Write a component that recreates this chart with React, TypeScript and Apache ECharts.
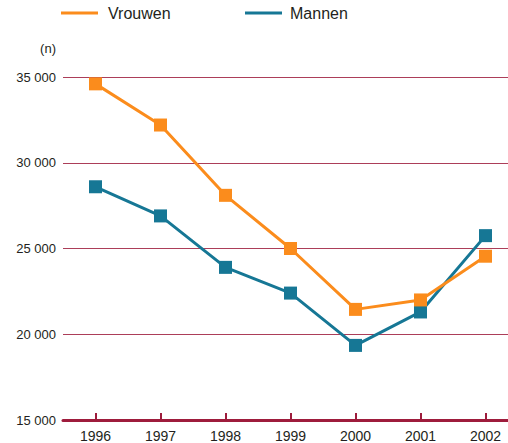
import React, { useEffect, useRef } from "react";
import * as echarts from "echarts";

const years = ["1996", "1997", "1998", "1999", "2000", "2001", "2002"];
const vrouwen = [34600, 32200, 28100, 25000, 21450, 22000, 24550];
const mannen = [28600, 26900, 23900, 22400, 19350, 21300, 25750];
const seriesNames = ["Vrouwen", "Mannen"];
const unitLabel = "(n)";

const FONT = "'Liberation Sans', Arial, Helvetica, sans-serif";
const ORANGE = "#fb8c1c";
const BLUE = "#167795";
const RED = "#9e1c3c";
const TXT = "#231f20";

export default function App() {
  const ref = useRef<HTMLDivElement>(null);
  useEffect(() => {
    if (!ref.current) return;
    const chart = echarts.init(ref.current, null, { renderer: "svg" });
    chart.setOption({
      animation: false,
      backgroundColor: "#ffffff",
      textStyle: { fontFamily: FONT },
      grid: {
        left: 63,
        top: 77,
        height: 343,
        width: 455,
        containLabel: false,
        outerBoundsMode: "none",
      },
      legend: [
        {
          data: [seriesNames[0]],
          left: 61,
          top: 5,
          padding: 0,
          icon: "rect",
          itemWidth: 37,
          itemHeight: 3,
          textStyle: { fontFamily: FONT, fontSize: 16, color: TXT, padding: [0, 0, 0, 5] },
        },
        {
          data: [seriesNames[1]],
          left: 245,
          top: 5,
          padding: 0,
          icon: "rect",
          itemWidth: 37,
          itemHeight: 3,
          textStyle: { fontFamily: FONT, fontSize: 16, color: TXT, padding: [0, 0, 0, 3] },
        },
      ],
      graphic: [
        {
          type: "text",
          x: 56,
          y: 48,
          style: {
            text: unitLabel,
            fontFamily: FONT,
            fontSize: 13,
            fill: TXT,
            textAlign: "right",
            textVerticalAlign: "middle",
          },
        },
      ],
      xAxis: {
        type: "category",
        data: years,
        boundaryGap: true,
        axisLine: { show: true, lineStyle: { color: RED, width: 3 } },
        axisTick: {
          show: true,
          inside: true,
          alignWithLabel: true,
          length: 7,
          lineStyle: { color: RED, width: 2 },
        },
        axisLabel: { color: TXT, fontSize: 14, lineHeight: 14, fontFamily: FONT, margin: 9 },
        splitLine: { show: false },
      },
      yAxis: {
        type: "value",
        min: 15000,
        max: 35000,
        interval: 5000,
        axisLine: { show: false },
        axisTick: { show: false },
        axisLabel: {
          color: TXT,
          fontSize: 13,
          fontFamily: FONT,
          margin: 7,
          formatter: (v: number) => {
            const s = String(v);
            return s.slice(0, s.length - 3) + " " + s.slice(-3);
          },
        },
        splitLine: { show: true, lineStyle: { color: RED, width: 1.2, opacity: 0.85 } },
      },
      series: [
        {
          name: seriesNames[0],
          type: "line",
          data: vrouwen,
          color: ORANGE,
          symbol: "rect",
          symbolSize: 13,
          lineStyle: { width: 3, color: ORANGE },
          itemStyle: { color: ORANGE },
          z: 3,
        },
        {
          name: seriesNames[1],
          type: "line",
          data: mannen,
          color: BLUE,
          symbol: "rect",
          symbolSize: 13,
          lineStyle: { width: 3, color: BLUE },
          itemStyle: { color: BLUE },
          z: 2,
        },
      ],
    });
    return () => chart.dispose();
  }, []);
  return (
    <div
      ref={ref}
      style={{ position: "absolute", left: 0, top: 0, width: 508, height: 443 }}
    />
  );
}
